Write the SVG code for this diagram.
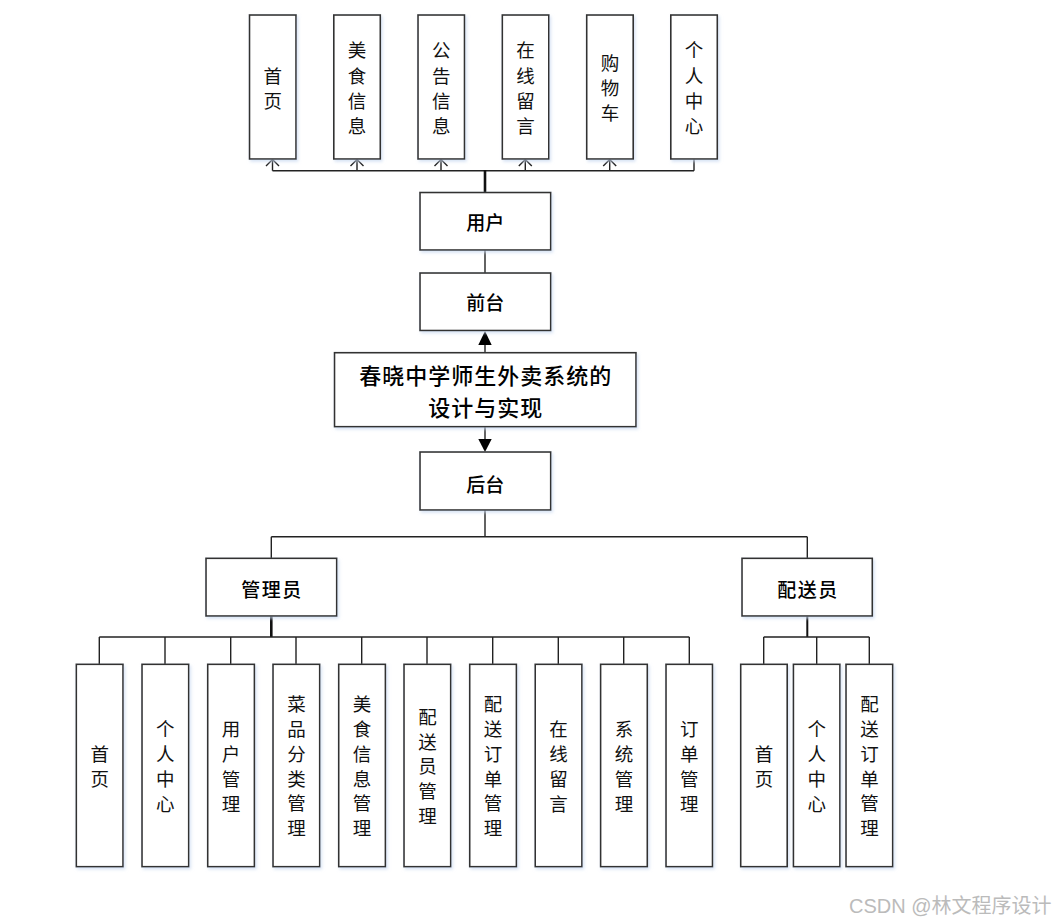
<svg xmlns="http://www.w3.org/2000/svg" width="1055" height="923" viewBox="0 0 1055 923">
<style>
.box{fill:#fff;stroke:#333;stroke-width:1.6;filter:url(#sh)}
.ln{fill:none;stroke:#222;stroke-width:1.4}
.thk{fill:none;stroke:#111;stroke-width:2.6}
.v{font-family:"Noto Sans CJK SC",sans-serif;font-size:18.5px;fill:#111;text-anchor:middle;dominant-baseline:central}
.m{font-family:"Noto Sans CJK SC",sans-serif;font-size:19px;fill:#000;text-anchor:middle;dominant-baseline:central;font-weight:500}
.t{font-family:"Noto Sans CJK SC",sans-serif;font-size:22px;fill:#000;text-anchor:middle;dominant-baseline:central;font-weight:500;letter-spacing:1px}
.wm{font-family:"Liberation Sans","Noto Sans CJK SC",sans-serif;font-size:20px;fill:#bbb}
</style>
<defs>
<filter id="sh" x="-20%" y="-20%" width="140%" height="140%">
<feDropShadow dx="1.5" dy="2" stdDeviation="1.5" flood-color="#c8d8f0" flood-opacity="0.7"/>
</filter>
<path id="oa" d="M-6.5,6.5 L0,0 L6.5,6.5" fill="none" stroke="#222" stroke-width="1.4"/>
</defs>
<rect width="1055" height="923" fill="#fff"/>
<g id="connectors">
<path class="ln" d="M272.5,170.7 H694"/>
<path class="ln" d="M272.5,170.7 V159.5 M357,170.7 V159.5 M441,170.7 V159.5 M525.3,170.7 V159.5 M609.7,170.7 V159.5 M694,170.7 V159"/>
<use href="#oa" x="272.5" y="159.5"/>
<use href="#oa" x="357" y="159.5"/>
<use href="#oa" x="441" y="159.5"/>
<use href="#oa" x="525.3" y="159.5"/>
<use href="#oa" x="609.7" y="159.5"/>
<path class="thk" d="M485,170 V192"/>
<path class="ln" d="M485,250 V273"/>
<path class="ln" d="M485,352.7 V344"/>
<path d="M478.3,345 L485,331 L491.7,345 Z" fill="#000"/>
<path class="ln" d="M485,426.7 V440"/>
<path d="M478.3,439 L485,452 L491.7,439 Z" fill="#000"/>
<path class="ln" d="M485,510 V536.7 M271.3,536.7 H807.3 M271.3,536.7 V558.3 M807.3,536.7 V558.3"/>
<path class="thk" d="M271.3,616 V637"/>
<path class="ln" d="M99.3,637 H689.3"/>
<path class="ln" d="M99.3,637 V664.3 M165,637 V664.3 M230.7,637 V664.3 M296,637 V664.3 M361.7,637 V664.3 M427,637 V664.3 M492.7,637 V664.3 M558.3,637 V664.3 M623.7,637 V664.3 M689.3,637 V664.3"/>
<path class="thk" d="M807.3,616 V637" style="stroke-width:2"/>
<path class="ln" d="M763.7,637 H869.3 M763.7,637 V664.3 M816.7,637 V664.3 M869.3,637 V664.3"/>
</g>
<g id="n-shouye"><rect class="box" x="249.5" y="15" width="46.5" height="144"/><text class="v"><tspan x="272.7" y="74.5">首</tspan><tspan x="272.7" y="99.7">页</tspan></text></g>
<g id="n-meishi"><rect class="box" x="333.8" y="15" width="46.5" height="144"/><text class="v"><tspan x="357" y="49">美</tspan><tspan x="357" y="74.5">食</tspan><tspan x="357" y="99.5">信</tspan><tspan x="357" y="125">息</tspan></text></g>
<g id="n-gonggao"><rect class="box" x="418" y="15" width="46.5" height="144"/><text class="v"><tspan x="441.2" y="49">公</tspan><tspan x="441.2" y="74.5">告</tspan><tspan x="441.2" y="99.5">信</tspan><tspan x="441.2" y="125">息</tspan></text></g>
<g id="n-liuyan"><rect class="box" x="502.3" y="15" width="46.5" height="144"/><text class="v"><tspan x="525.5" y="49">在</tspan><tspan x="525.5" y="74.5">线</tspan><tspan x="525.5" y="99.5">留</tspan><tspan x="525.5" y="125">言</tspan></text></g>
<g id="n-gouwu"><rect class="box" x="586.7" y="15" width="46.5" height="144"/><text class="v"><tspan x="610" y="61.7">购</tspan><tspan x="610" y="87">物</tspan><tspan x="610" y="112.3">车</tspan></text></g>
<g id="n-geren"><rect class="box" x="670.8" y="15" width="46.5" height="144"/><text class="v"><tspan x="694" y="49">个</tspan><tspan x="694" y="74.5">人</tspan><tspan x="694" y="99.5">中</tspan><tspan x="694" y="125">心</tspan></text></g>
<g id="n-yonghu"><rect class="box" x="420" y="192.5" width="130.7" height="57.5"/><text class="m" x="485.3" y="221">用户</text></g>
<g id="n-qiantai"><rect class="box" x="420" y="273" width="130.7" height="57.5"/><text class="m" x="485.3" y="301.5">前台</text></g>
<g id="n-title"><rect class="box" x="334.5" y="352.7" width="301.5" height="74"/><text class="t" x="485.8" y="374">春晓中学师生外卖系统的</text><text class="t" x="485.8" y="406">设计与实现</text></g>
<g id="n-houtai"><rect class="box" x="420" y="452" width="130.7" height="58"/><text class="m" x="485.3" y="483">后台</text></g>
<g id="n-admin"><rect class="box" x="206" y="558.3" width="130.7" height="57.7"/><text class="m" x="272" y="588" letter-spacing="1.5">管理员</text></g>
<g id="n-courier"><rect class="box" x="742" y="558.3" width="130.3" height="57.7"/><text class="m" x="808" y="588" letter-spacing="1.5">配送员</text></g>
<g id="a1"><rect class="box" x="76.3" y="664.3" width="46.7" height="202.4"/><text class="v"><tspan x="99.7" y="753">首</tspan><tspan x="99.7" y="778">页</tspan></text></g>
<g id="a2"><rect class="box" x="142" y="664.3" width="46.7" height="202.4"/><text class="v"><tspan x="165.3" y="728">个</tspan><tspan x="165.3" y="753">人</tspan><tspan x="165.3" y="778">中</tspan><tspan x="165.3" y="802.5">心</tspan></text></g>
<g id="a3"><rect class="box" x="207.7" y="664.3" width="46.7" height="202.4"/><text class="v"><tspan x="231" y="728">用</tspan><tspan x="231" y="753">户</tspan><tspan x="231" y="778">管</tspan><tspan x="231" y="802.5">理</tspan></text></g>
<g id="a4"><rect class="box" x="273" y="664.3" width="46.7" height="202.4"/><text class="v"><tspan x="296.4" y="703.3">菜</tspan><tspan x="296.4" y="728">品</tspan><tspan x="296.4" y="753">分</tspan><tspan x="296.4" y="777.5">类</tspan><tspan x="296.4" y="802">管</tspan><tspan x="296.4" y="826.7">理</tspan></text></g>
<g id="a5"><rect class="box" x="338.7" y="664.3" width="46.7" height="202.4"/><text class="v"><tspan x="362" y="703.3">美</tspan><tspan x="362" y="728">食</tspan><tspan x="362" y="753">信</tspan><tspan x="362" y="777.5">息</tspan><tspan x="362" y="802">管</tspan><tspan x="362" y="826.7">理</tspan></text></g>
<g id="a6"><rect class="box" x="404" y="664.3" width="46.7" height="202.4"/><text class="v"><tspan x="427.4" y="715.5">配</tspan><tspan x="427.4" y="740.5">送</tspan><tspan x="427.4" y="765">员</tspan><tspan x="427.4" y="790">管</tspan><tspan x="427.4" y="814.5">理</tspan></text></g>
<g id="a7"><rect class="box" x="469.7" y="664.3" width="46.7" height="202.4"/><text class="v"><tspan x="493" y="703.3">配</tspan><tspan x="493" y="728">送</tspan><tspan x="493" y="753">订</tspan><tspan x="493" y="777.5">单</tspan><tspan x="493" y="802">管</tspan><tspan x="493" y="826.7">理</tspan></text></g>
<g id="a8"><rect class="box" x="535.2" y="664.3" width="46.7" height="202.4"/><text class="v"><tspan x="558.5" y="728">在</tspan><tspan x="558.5" y="753">线</tspan><tspan x="558.5" y="778">留</tspan><tspan x="558.5" y="802.5">言</tspan></text></g>
<g id="a9"><rect class="box" x="600.6" y="664.3" width="46.7" height="202.4"/><text class="v"><tspan x="624" y="728">系</tspan><tspan x="624" y="753">统</tspan><tspan x="624" y="778">管</tspan><tspan x="624" y="802.5">理</tspan></text></g>
<g id="a10"><rect class="box" x="666" y="664.3" width="46.5" height="202.4"/><text class="v"><tspan x="689.3" y="728">订</tspan><tspan x="689.3" y="753">单</tspan><tspan x="689.3" y="778">管</tspan><tspan x="689.3" y="802.5">理</tspan></text></g>
<g id="c1"><rect class="box" x="740.7" y="664.3" width="46.5" height="202.4"/><text class="v"><tspan x="764" y="753">首</tspan><tspan x="764" y="778">页</tspan></text></g>
<g id="c2"><rect class="box" x="793.4" y="664.3" width="46.5" height="202.4"/><text class="v"><tspan x="816.7" y="728">个</tspan><tspan x="816.7" y="753">人</tspan><tspan x="816.7" y="778">中</tspan><tspan x="816.7" y="802.5">心</tspan></text></g>
<g id="c3"><rect class="box" x="846" y="664.3" width="46.7" height="202.4"/><text class="v"><tspan x="869.4" y="703.3">配</tspan><tspan x="869.4" y="728">送</tspan><tspan x="869.4" y="753">订</tspan><tspan x="869.4" y="777.5">单</tspan><tspan x="869.4" y="802">管</tspan><tspan x="869.4" y="826.7">理</tspan></text></g>
<text class="wm" x="849" y="913">CSDN @林文程序设计</text>
</svg>
